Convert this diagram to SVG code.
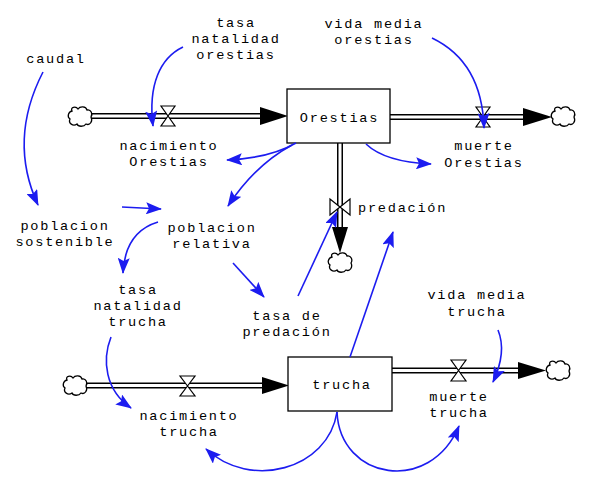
<svg xmlns="http://www.w3.org/2000/svg" width="597" height="495" viewBox="0 0 597 495">
<style>
text{font-family:"Liberation Mono","Courier New",monospace;font-size:13.6px;letter-spacing:1.75px;fill:#000;text-anchor:middle}
.pipeo{stroke:#000;stroke-width:6;fill:none}
.pipei{stroke:#fff;stroke-width:3;fill:none}
.valve{fill:#fff;stroke:#000;stroke-width:1.2}
.head{fill:#000}
.cloud{fill:#fff;stroke:#000;stroke-width:1.3}
.box{fill:#fff;stroke:#000;stroke-width:1.3}
.link{fill:none;stroke:#1c1cf0;stroke-width:1.6;marker-end:url(#ah)}
</style>
<defs>
<marker id="ah" viewBox="0 0 16 12" refX="15" refY="6" markerWidth="16" markerHeight="12" markerUnits="userSpaceOnUse" orient="auto">
<path d="M0,0 L16,6 L0,12 L3,6 z" fill="#1c1cf0"/>
</marker>
<path id="cl" d="M-8,-6 C-10,-10 -4,-11 -2,-8 C0,-11 6,-11 7,-7 C11,-8 13,-3 11,0 C13,4 10,9 6,7 C4,10 -2,10 -3,7 C-7,10 -12,6 -10,2 C-13,0 -12,-5 -8,-6 Z"/>
</defs>
<rect width="597" height="495" fill="#fff"/>

<g id="flow-nacimiento-orestias">
<line class="pipeo" x1="90" y1="116" x2="262" y2="116"/>
<line class="pipei" x1="88" y1="116" x2="262" y2="116"/>
<use href="#cl" class="cloud" x="80" y="117"/>
<polygon class="head" points="260,107 288,116 260,125"/>
<polygon class="valve" points="161,106 175,106 168,116 161,126 175,126 168,116"/>
<text x="169" y="150">nacimiento</text>
<text x="169" y="166">Orestias</text>
</g>

<g id="flow-muerte-orestias">
<line class="pipeo" x1="390" y1="117" x2="525" y2="117"/>
<line class="pipei" x1="390" y1="117" x2="525" y2="117"/>
<polygon class="head" points="523,108 552,117 523,126"/>
<use href="#cl" class="cloud" x="563" y="117"/>
<polygon class="valve" points="476,107 490,107 483,117 476,127 490,127 483,117"/>
<text x="484" y="150">muerte</text>
<text x="484" y="167">Orestias</text>
</g>

<g id="flow-predacion">
<line class="pipeo" x1="340" y1="143" x2="340" y2="229"/>
<line class="pipei" x1="340" y1="143" x2="340" y2="229"/>
<polygon class="head" points="332,227 348,227 340,253"/>
<use href="#cl" class="cloud" x="340" y="263"/>
<polygon class="valve" points="330,199 330,215 340,207 350,199 350,215 340,207"/>
<text x="358" y="212" style="text-anchor:start">predación</text>
</g>

<g id="flow-nacimiento-trucha">
<line class="pipeo" x1="86" y1="385.5" x2="264" y2="385.5"/>
<line class="pipei" x1="84" y1="385.5" x2="264" y2="385.5"/>
<use href="#cl" class="cloud" x="75" y="386"/>
<polygon class="head" points="262,377 289,385.5 262,394"/>
<polygon class="valve" points="180,376 195,376 187.5,386 180,396 195,396 187.5,386"/>
<text x="189" y="420">nacimiento</text>
<text x="189" y="436">trucha</text>
</g>

<g id="flow-muerte-trucha">
<line class="pipeo" x1="392" y1="370.5" x2="520" y2="370.5"/>
<line class="pipei" x1="392" y1="370.5" x2="520" y2="370.5"/>
<polygon class="head" points="518,362 546,370.5 518,379"/>
<use href="#cl" class="cloud" x="558" y="371"/>
<polygon class="valve" points="451,360 466,360 458.5,370.5 451,381 466,381 458.5,370.5"/>
<text x="459" y="401">muerte</text>
<text x="459" y="417">trucha</text>
</g>

<g id="stock-orestias">
<rect class="box" x="287" y="89" width="103" height="54"/>
<text x="339.5" y="122">Orestias</text>
</g>

<g id="stock-trucha">
<rect class="box" x="288" y="357" width="104" height="54"/>
<text x="342" y="389">trucha</text>
</g>

<g id="aux-tasa-natalidad-orestias">
<text x="236" y="27">tasa</text>
<text x="236" y="43">natalidad</text>
<text x="236" y="59">orestias</text>
</g>
<g id="aux-vida-media-orestias">
<text x="374" y="28">vida media</text>
<text x="374" y="44">orestias</text>
</g>
<g id="aux-caudal"><text x="56" y="63">caudal</text></g>
<g id="aux-poblacion-sostenible">
<text x="65" y="230">poblacion</text>
<text x="65" y="246">sostenible</text>
</g>
<g id="aux-poblacion-relativa">
<text x="212" y="232">poblacion</text>
<text x="212" y="248">relativa</text>
</g>
<g id="aux-tasa-natalidad-trucha">
<text x="138" y="294">tasa</text>
<text x="138" y="310">natalidad</text>
<text x="138" y="326">trucha</text>
</g>
<g id="aux-tasa-predacion">
<text x="287" y="320">tasa de</text>
<text x="287" y="336">predación</text>
</g>
<g id="aux-vida-media-trucha">
<text x="477" y="299">vida media</text>
<text x="477" y="316">trucha</text>
</g>

<g id="connectors">
<path class="link" d="M183,47 C160,58 148,85 153,126"/>
<path class="link" d="M43,72 Q8,140 38,205"/>
<path class="link" d="M432,38 Q482,62 484,128"/>
<path class="link" d="M296,143 Q270,158 227,160"/>
<path class="link" d="M292,145 Q255,165 228,206"/>
<path class="link" d="M366,144 Q385,162 431,164"/>
<path class="link" d="M122,207 L161,209"/>
<path class="link" d="M158,222 Q125,232 123,273"/>
<path class="link" d="M233,263 L264,297"/>
<path class="link" d="M298,296 L337,212"/>
<path class="link" d="M350,357 L393,232"/>
<path class="link" d="M111,337 C102,360 105,390 131,408"/>
<path class="link" d="M337,412 C328,470 250,490 206,449"/>
<path class="link" d="M337,412 C340,480 430,495 459,426"/>
<path class="link" d="M498,330 Q507,352 493,382"/>
</g>
</svg>
